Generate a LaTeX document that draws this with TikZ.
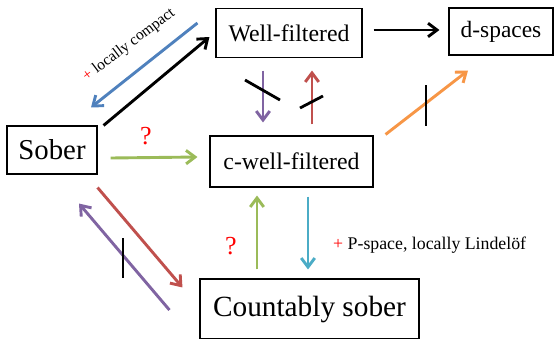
\documentclass[tikz,border=0pt]{standalone}
\usepackage{fontspec}
\setmainfont{Liberation Serif}
\usetikzlibrary{arrows.meta,calc}
\definecolor{cblue}{HTML}{4F81BD}
\definecolor{cred}{HTML}{C0504D}
\definecolor{cgreen}{HTML}{9BBB59}
\definecolor{cpurple}{HTML}{8064A2}
\definecolor{ccyan}{HTML}{4BACC6}
\definecolor{corange}{HTML}{F79646}
\begin{document}
\begin{tikzpicture}[x=1pt,y=-1pt,
  box/.style={draw=black,line width=1.1pt,inner sep=0pt,align=center},
  conn/.style={line width=2.9pt,-{Straight Barb[length=9pt,width=13.5pt,line width=2.9pt]}},
  cut/.style={draw=black,line width=2.8pt},
  qmark/.style={text=red,font=\fontsize{26}{30}\selectfont},
  note/.style={font=\fontsize{15.5}{18}\selectfont}]
\useasboundingbox (0,0) rectangle (554,338);
\fill[white] (0,0) rectangle (554,338);

% the five classes of spaces
\node[box,minimum width=146pt,minimum height=49pt,font=\fontsize{23.8}{27}\selectfont] (WF) at (289,33) {Well-filtered};
\node[box,minimum width=104pt,minimum height=47pt,font=\fontsize{23.4}{27}\selectfont] (DS) at (501,31.5) {d-spaces};
\node[box,minimum width=90pt,minimum height=48pt,font=\fontsize{28.8}{32}\selectfont] (SB) at (52,150) {Sober};
\node[box,minimum width=163pt,minimum height=51pt,font=\fontsize{23.8}{27}\selectfont] (CWF) at (291.5,161.5) {c-well-filtered};
\node[box,minimum width=219pt,minimum height=60pt,font=\fontsize{29.3}{33}\selectfont] (CS) at (309.5,309) {Countably sober};

% implications
\draw[conn,black] ($(WF.east)+(11,-3)$) -- ($(DS.west)+(-9,-1.5)$);
\draw[conn,cblue] ($(WF.west)+(-18,-10)$) -- ($(SB.north)+(39,-18)$);
\draw[conn,black] ($(SB.north east)+(6,0)$) -- ($(WF.west)+(-6,4)$);
\draw[conn,cpurple] ($(WF.south)+(-26,12.5)$) -- ($(CWF.north)+(-28.5,-13)$);
\draw[conn,cred] ($(CWF.north)+(20.5,-11)$) -- ($(WF.south)+(23,12.5)$);
\draw[conn,cgreen] ($(SB.east)+(13,8)$) -- ($(CWF.west)+(-12,-4.5)$);
\draw[conn,corange] ($(CWF.north east)+(12,-1)$) -- ($(DS.south)+(-33,15)$);
\draw[conn,cred] ($(SB.south east)+(0,13)$) -- ($(CS.north west)+(-17,9)$);
\draw[conn,cpurple] ($(CS.west)+(-30,1)$) -- ($(SB.south)+(27,29)$);
\draw[conn,cgreen] ($(CS.north)+(-52.5,-9)$) -- ($(CWF.south)+(-34.5,8)$);
\draw[conn,ccyan] ($(CWF.south)+(16.5,9)$) -- ($(CS.north)+(-1.5,-9)$);

% strokes marking the implications that fail
\draw[cut] (245,80) -- (280,100);
\draw[cut] (300,108) -- (323,96);
\draw[cut] (426,85) -- (426,126);
\draw[cut] (123,238) -- (123,278);

% labels
\node[qmark] (q1) at (146,136) {?};
\node[qmark] (q2) at (231,246) {?};
\node[note,rotate=37] (lc) at (129,45) {\textcolor{red}{+} locally compact};
\node[note,anchor=west,inner sep=0pt,font=\fontsize{17.8}{20}\selectfont] (pl) at (333,245) {\textcolor{red}{+} P-space, locally Lindelöf};
\end{tikzpicture}
\end{document}
